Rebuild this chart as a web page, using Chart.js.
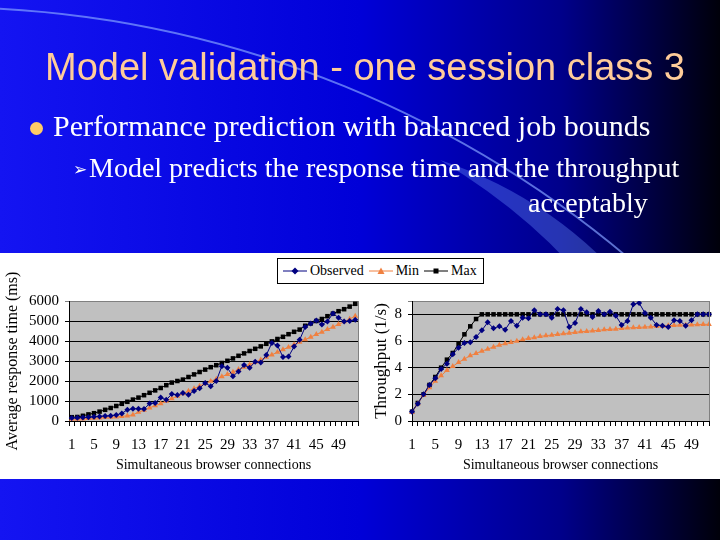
<!DOCTYPE html>
<html>
<head>
<meta charset="utf-8">
<script src="https://cdn.jsdelivr.net/npm/chart.js@4.4.1/dist/chart.umd.min.js"></script>
<style>
  body { margin: 0; width: 720px; height: 540px; overflow: hidden; position: relative; }
  #bg { position: absolute; left: 0; top: 0; }
  .txt { position: absolute; white-space: nowrap; }
  #title { left: 45px; top: 46px; font: 38px 'Liberation Sans', Arial, sans-serif; color: #ffcc99; }
  #b1 { left: 53px; top: 109px; font: 30px 'Liberation Serif', 'Times New Roman', serif; color: #fff; }
  #dot { left: 30px; top: 122px; width: 13px; height: 13px; border-radius: 50%; background: #ffcc66; position: absolute; }
  #arrow { left: 73px; top: 159px; font: 17px 'DejaVu Sans', sans-serif; color: #fff; }
  #b2 { left: 89px; top: 152px; font: 28px 'Liberation Serif', 'Times New Roman', serif; color: #fff; }
  #b3 { left: 528px; top: 187px; font: 28px 'Liberation Serif', 'Times New Roman', serif; color: #fff; }
  #panel { position: absolute; left: 0; top: 253px; width: 720px; height: 226px; background: #fff; }
  #c1 { position: absolute; left: 0; top: 255px; }
  #c2 { position: absolute; left: 368px; top: 255px; }
  #legend { position: absolute; left: 277px; top: 258px; width: 205px; height: 24px; border: 1px solid #000; background: #fff;
            font: 14px 'Liberation Serif', serif; color: #000; display: flex; align-items: center; }
  #legend span { display: inline-flex; align-items: center; margin-left: 5px; }
  #legend svg { margin-right: 3px; }
</style>
</head>
<body>
<canvas id="bg" width="720" height="540"></canvas>
<div class="txt" id="title">Model validation - one session class 3</div>
<div id="dot"></div>
<div class="txt" id="b1">Performance prediction with balanced job bounds</div>
<div class="txt" id="arrow">➢</div>
<div class="txt" id="b2">Model predicts the response time and the throughput</div>
<div class="txt" id="b3">acceptably</div>
<div id="panel"></div>
<canvas id="c1" width="370" height="225"></canvas>
<canvas id="c2" width="352" height="225"></canvas>
<div id="legend">
  <span><svg width="24" height="8"><line x1="0" y1="4" x2="24" y2="4" stroke="#000080"/><path d="M12 0.5 L15.5 4 L12 7.5 L8.5 4 Z" fill="#000080"/></svg>Observed</span>
  <span><svg width="24" height="8"><line x1="0" y1="4" x2="24" y2="4" stroke="#f08040"/><path d="M12 0.5 L15.5 7 L8.5 7 Z" fill="#f08040"/></svg>Min</span>
  <span><svg width="24" height="8"><line x1="0" y1="4" x2="24" y2="4" stroke="#000"/><rect x="9.5" y="1.5" width="5" height="5" fill="#000"/></svg>Max</span>
</div>
<script>
// categories: simultaneous browser connections 1..52
const connections = [1,2,3,4,5,6,7,8,9,10,11,12,13,14,15,16,17,18,19,20,21,22,23,24,25,26,
  27,28,29,30,31,32,33,34,35,36,37,38,39,40,41,42,43,44,45,46,47,48,49,50,51,52];

// response time (ms)
const rtObserved = [150,160,170,190,210,230,250,260,300,380,560,610,610,600,870,900,1170,1060,1350,1300,
  1400,1310,1500,1640,1900,1740,2000,2740,2660,2240,2480,2800,2660,2960,2920,3300,3900,3780,3200,3220,
  3720,4060,4700,4880,5020,4830,4980,5380,5160,4980,5000,5060];
const rtMin = [90,100,110,130,150,160,180,190,210,230,260,310,440,550,660,770,870,1000,1120,1250,
  1370,1500,1620,1750,1870,1990,2100,2220,2330,2450,2580,2700,2820,2940,3060,3190,3310,3440,3570,3690,
  3820,3950,4070,4200,4330,4450,4580,4700,4830,4970,5100,5250];
const rtMax = [190,200,260,330,390,470,560,650,750,860,960,1070,1170,1290,1410,1530,1650,1790,1920,2000,
  2070,2200,2330,2450,2570,2690,2790,2900,3010,3130,3260,3380,3500,3610,3730,3860,3980,4100,4210,4340,
  4460,4570,4760,4880,5000,5100,5240,5370,5490,5590,5720,5860];

// throughput (1/s)
const tpObserved = [0.7,1.3,2.0,2.7,3.2,3.9,4.3,5.0,5.5,5.85,5.9,6.3,6.8,7.4,6.95,7.1,6.85,7.5,7.15,7.75,
  7.7,8.3,8.0,8.0,7.75,8.4,8.3,7.05,7.35,8.4,8.15,7.8,8.25,8.0,8.2,7.9,7.2,7.5,8.75,8.85,
  8.1,7.75,7.2,7.15,7.05,7.55,7.5,7.15,7.55,8.0,8.0,8.0];
const tpMin = [0.65,1.3,1.95,2.5,3.0,3.4,3.8,4.1,4.4,4.65,4.9,5.07,5.25,5.4,5.55,5.7,5.8,5.9,6.0,6.1,
  6.2,6.25,6.35,6.4,6.45,6.5,6.55,6.6,6.65,6.7,6.73,6.77,6.8,6.85,6.88,6.9,6.95,6.98,7.0,7.02,
  7.05,7.07,7.1,7.12,7.15,7.17,7.2,7.2,7.22,7.23,7.25,7.25];
const tpMax = [0.7,1.35,2.0,2.7,3.3,4.0,4.6,5.1,5.8,6.5,7.1,7.65,8,8,8,8,8,8,8,8,
  8,8,8,8,8,8,8,8,8,8,8,8,8,8,8,8,8,8,8,8,
  8,8,8,8,8,8,8,8,8,8,8,8];

const rtTicks = [0,1000,2000,3000,4000,5000,6000];
const tpTicks = [0,2,4,6,8];

// slide background
(function () {
  const c = document.getElementById('bg').getContext('2d');
  const g = c.createLinearGradient(0, 0, 720, 0);
  g.addColorStop(0, '#1414f2');
  g.addColorStop(0.5, '#0000d8');
  g.addColorStop(0.78, '#00008a');
  g.addColorStop(1, '#00000a');
  c.fillStyle = g;
  c.fillRect(0, 0, 720, 540);
  // swoosh
  c.save();
  c.beginPath();
  c.moveTo(440, 160);
  c.quadraticCurveTo(560, 200, 640, 300);
  c.lineTo(600, 300);
  c.quadraticCurveTo(540, 220, 440, 160);
  c.fillStyle = 'rgba(110,150,255,0.35)';
  c.fill();
  c.beginPath();
  c.arc(-59, 1074, 1067, -Math.PI / 2 + 0.055, -Math.PI / 2 + 0.72);
  c.strokeStyle = 'rgba(130,160,255,0.7)';
  c.lineWidth = 2;
  c.stroke();
  c.restore();
})();

const plotBg = {
  id: 'plotBg',
  beforeDraw(chart) {
    const { ctx, chartArea: a } = chart;
    ctx.save();
    ctx.fillStyle = '#c0c0c0';
    ctx.fillRect(a.left, a.top, a.right - a.left, a.bottom - a.top);
    ctx.restore();
  },
  afterDraw(chart) {
    const { ctx, chartArea: a } = chart;
    ctx.save();
    ctx.strokeStyle = '#808080';
    ctx.lineWidth = 1;
    ctx.beginPath();
    ctx.moveTo(Math.round(a.right) + 0.5, a.top);
    ctx.lineTo(Math.round(a.right) + 0.5, a.bottom);
    ctx.stroke();
    ctx.restore();
  }
};

const serif = "'Liberation Serif', 'Times New Roman', serif";
const tickFont = { family: serif, size: 15 };
const xTitleFont = { family: serif, size: 14 };

function sets(obs, mn, mx) {
  return [
    { label: 'Observed', data: obs, borderColor: '#000080', backgroundColor: '#000080', borderWidth: 1,
      pointStyle: 'rectRot', pointRadius: 3, pointBorderWidth: 0 },
    { label: 'Min', data: mn, borderColor: '#f08040', backgroundColor: '#f08040', borderWidth: 1,
      pointStyle: 'triangle', pointRadius: 3.3, pointBorderWidth: 0 },
    { label: 'Max', data: mx, borderColor: '#000', backgroundColor: '#000', borderWidth: 1,
      pointStyle: 'rect', pointRadius: 3.2, pointBorderWidth: 0 }
  ];
}

function makeChart(id, obs, mn, mx, opts) {
  return new Chart(document.getElementById(id), {
    type: 'line',
    data: { labels: connections, datasets: sets(obs, mn, mx) },
    plugins: [plotBg],
    options: {
      responsive: false,
      animation: false,
      layout: { padding: { top: 46, right: opts.right, left: 0, bottom: 0 } },
      plugins: { legend: { display: false }, tooltip: { enabled: false } },
      elements: { line: { tension: 0 } },
      scales: {
        x: {
          offset: opts.offset,
          afterFit: s => { s.height = 59; },
          grid: { offset: opts.offset, drawOnChartArea: false, color: '#000', tickLength: 5 },
          border: { color: '#000' },
          ticks: { autoSkip: false, maxRotation: 0, color: '#000', font: tickFont, padding: 10,
            callback: (v, i) => (i % 4 === 0 ? connections[i] : '') },
          title: { display: true, text: 'Simultaneous browser connections', color: '#000', font: xTitleFont,
            padding: { top: 0, bottom: 6 } }
        },
        y: {
          min: 0, max: opts.max,
          afterFit: s => { s.width = opts.yWidth; },
          afterBuildTicks: s => { s.ticks = opts.ticks.concat(opts.max !== opts.ticks[opts.ticks.length - 1] ? [opts.max] : []).map(v => ({ value: v })); },
          grid: { color: c => (c.tick && c.tick.value === opts.max ? '#808080' : '#000'), tickLength: 4 },
          border: { color: '#000' },
          ticks: { autoSkip: false, color: '#000', font: tickFont, padding: 6,
            callback: v => (opts.ticks.includes(v) ? v : '') },
          title: { display: true, text: opts.yTitle, color: '#000', font: { family: serif, size: opts.yTitleSize },
            padding: { top: 3, bottom: 0 } }
        }
      }
    }
  });
}

makeChart('c1', rtObserved, rtMin, rtMax,
  { offset: true, right: 12, yWidth: 69, max: 6000, ticks: rtTicks, yTitle: 'Average response time (ms)', yTitleSize: 16 });
makeChart('c2', tpObserved, tpMin, tpMax,
  { offset: false, right: 11, yWidth: 44, max: 9, ticks: tpTicks, yTitle: 'Throughput (1/s)', yTitleSize: 17 });
</script>
</body>
</html>
